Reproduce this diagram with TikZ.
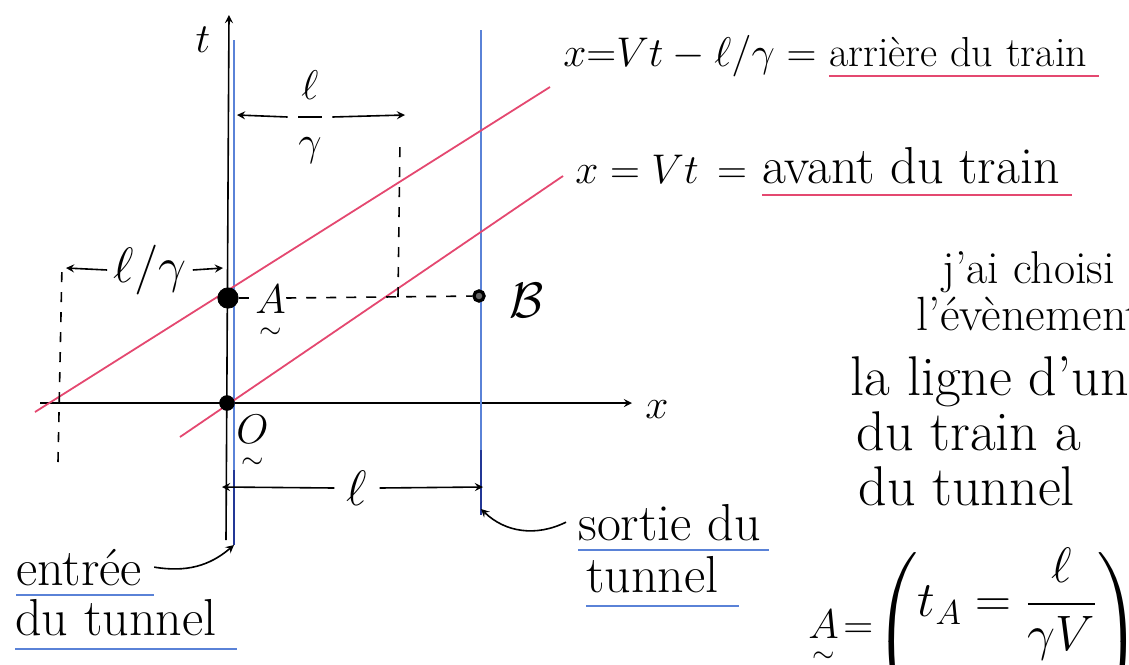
\documentclass[tikz,border=0pt]{standalone}
\usepackage{amsmath}
\usetikzlibrary{positioning}
\definecolor{penred}{RGB}{228,72,112}
\definecolor{penblue}{RGB}{90,130,215}
\definecolor{inkblue}{RGB}{35,55,150}
\newcommand{\vect}[1]{\underset{\sim}{#1}}
\begin{document}
\begin{tikzpicture}[x=0.5pt, y=-0.5pt, >=stealth,
    event/.style={circle, fill=black, draw=black, inner sep=2.6pt},
    worldline/.style={penred, line width=0.9pt},
    tunnel/.style={penblue, line width=1.1pt},
    guide/.style={dashed, dash pattern=on 5pt off 5pt, thick},
    hand/.style={inner sep=0pt, font=\fontsize{21}{25}\selectfont},
    bighand/.style={inner sep=0pt, font=\fontsize{26}{30}\selectfont}]
    \useasboundingbox (0,0) rectangle (1129,664);
    \clip (0,0) rectangle (1129,664);

    % axes
    \coordinate (tbot) at (226,540);
    \coordinate (ttop) at (229,15);
    \coordinate (xleft) at (40,403);
    \coordinate (xright) at (632,403);
    \draw[->, thick] (tbot) -- (ttop);
    \draw[->, thick] (xleft) -- (xright);
    \node[hand] (tlab) at (203,40) {$t$};
    \node[hand] (xlab) at (657,410) {$x$};

    % tunnel ends
    \coordinate (intop) at (234,40);
    \coordinate (inmid) at (234,470);
    \coordinate (inbot) at (234,545);
    \coordinate (outtop) at (481,30);
    \coordinate (outmid) at (481,450);
    \coordinate (outbot) at (481,515);
    \draw[tunnel] (intop) -- (inmid);
    \draw[tunnel, inkblue] (inmid) -- (inbot);
    \draw[tunnel] (outtop) -- (outmid);
    \draw[tunnel, inkblue] (outmid) -- (outbot);

    % train world lines
    \coordinate (rearlo) at (35,412);
    \coordinate (rearhi) at (550,87);
    \coordinate (frontlo) at (180,437);
    \coordinate (fronthi) at (563,176);
    \draw[worldline] (rearlo) -- (rearhi);
    \draw[worldline] (frontlo) -- (fronthi);

    % events
    \node[event] (O) at (227,403) {};
    \node[event, inner sep=3.6pt] (A) at (228,298) {};
    \node[circle, draw=black, fill=black!60, line width=1.6pt, inner sep=1.8pt] (B) at (479,296) {};
    \node[hand, anchor=north west] (Alab) at (255,285) {$\vect{A}$};
    \node[hand, anchor=north west] (Olab) at (236,415) {$\vect{O}$};
    \node[bighand] (Blab) at (527,300) {$\mathcal{B}$};

    % dashed guides
    \coordinate (cut) at (398,297);
    \coordinate (cuttop) at (400,140);
    \coordinate (leftbot) at (58,462);
    \coordinate (lefttop) at (62,265);
    \draw[guide] (A) -- (Alab.west |- A);
    \draw[guide] (Alab.east |- A) -- (B);
    \draw[guide] (cut) -- (cuttop);
    \draw[guide] (leftbot) -- (lefttop);

    % lengths
    \node[hand, inner sep=4pt] (lgtop) at (310,117) {$\dfrac{\ell}{\gamma}$};
    \coordinate (lgtopL) at (237,115);
    \coordinate (lgtopR) at (405,115);
    \draw[->, thick] (lgtop.west) -- (lgtopL);
    \draw[->, thick] (lgtop.east) -- (lgtopR);
    \node[bighand, inner sep=3pt] (lgleft) at (150,270) {$\ell/\gamma$};
    \coordinate (lgleftL) at (66,268);
    \coordinate (lgleftR) at (223,268);
    \draw[->, thick] (lgleft.west) -- (lgleftL);
    \draw[->, thick] (lgleft.east) -- (lgleftR);
    \node[bighand, inner sep=6pt] (lbot) at (357,488) {$\ell$};
    \coordinate (lbotL) at (222,487);
    \coordinate (lbotR) at (483,487);
    \draw[->, thick] (lbot.west) -- (lbotL);
    \draw[->, thick] (lbot.east) -- (lbotR);

    % world line labels
    \node[hand, anchor=base west] (rearEq) at (563,66) {$x{=}Vt-\ell/\gamma\;{=}$};
    \node[hand, right=6pt of rearEq.base east, anchor=base west] (rearTxt) {arrière du train};
    \draw[penred, thick] ([yshift=-5pt]rearTxt.base west) -- ([yshift=-5pt,xshift=6pt]rearTxt.base east);
    \node[hand, anchor=base west] (frontEq) at (575,183) {$x=Vt\,=$};
    \node[bighand, anchor=base west] (frontTxt) at (762,183) {avant du train};
    \draw[penred, thick] ([yshift=-6pt]frontTxt.base west) -- ([yshift=-6pt,xshift=6pt]frontTxt.base east);

    % tunnel labels
    \node[bighand, anchor=base west] (entree) at (16,585) {entrée};
    \node[bighand, anchor=base west] (entreeDu) at (15,635) {du tunnel};
    \draw[penblue, thick] ([yshift=-5pt]entree.base west) -- ([yshift=-5pt,xshift=6pt]entree.base east);
    \draw[penblue, thick] ([yshift=-7pt]entreeDu.base west) -- ([yshift=-7pt,xshift=10pt]entreeDu.base east);
    \draw[->, thick] ([xshift=6pt]entree.east) to[bend right=25] (inbot);
    \node[bighand, anchor=base west] (sortie) at (578,540) {sortie du};
    \node[bighand, anchor=base west] (sortieTu) at (586,592) {tunnel};
    \draw[penblue, thick] ([yshift=-5pt]sortie.base west) -- ([yshift=-5pt,xshift=4pt]sortie.base east);
    \draw[penblue, thick] ([yshift=-7pt]sortieTu.base west) -- ([yshift=-7pt,xshift=10pt]sortieTu.base east);
    \draw[->, thick] ([xshift=-6pt]sortie.west) to[bend left=35] ([yshift=3pt]outbot);

    % remark, cut by the page edge
    \node[bighand, font=\fontsize{23}{27}\selectfont, anchor=base west] (r1) at (942,283) {j'ai choisi};
    \node[bighand, font=\fontsize{24}{28}\selectfont, anchor=base west] (r2) at (916,330) {l'évènement};
    \node[bighand, font=\fontsize{28}{32}\selectfont, anchor=base west] (r3) at (850,395) {la ligne d'un};
    \node[bighand, font=\fontsize{28}{32}\selectfont, anchor=base west] (r4) at (856,450) {du train a};
    \node[bighand, font=\fontsize{28}{32}\selectfont, anchor=base west] (r5) at (858,505) {du tunnel};

    % coordinates of A
    \node[hand, anchor=base west] (Aname) at (808,638) {$\vect{A}\!=$};
    \node[bighand, font=\fontsize{23}{27}\selectfont, anchor=north west] (Avec) at (874,548) {$\left(\begin{matrix} t_A=\dfrac{\ell}{\gamma V}\\[24pt] \phantom{t}\end{matrix}\right)$};
\end{tikzpicture}
\end{document}
